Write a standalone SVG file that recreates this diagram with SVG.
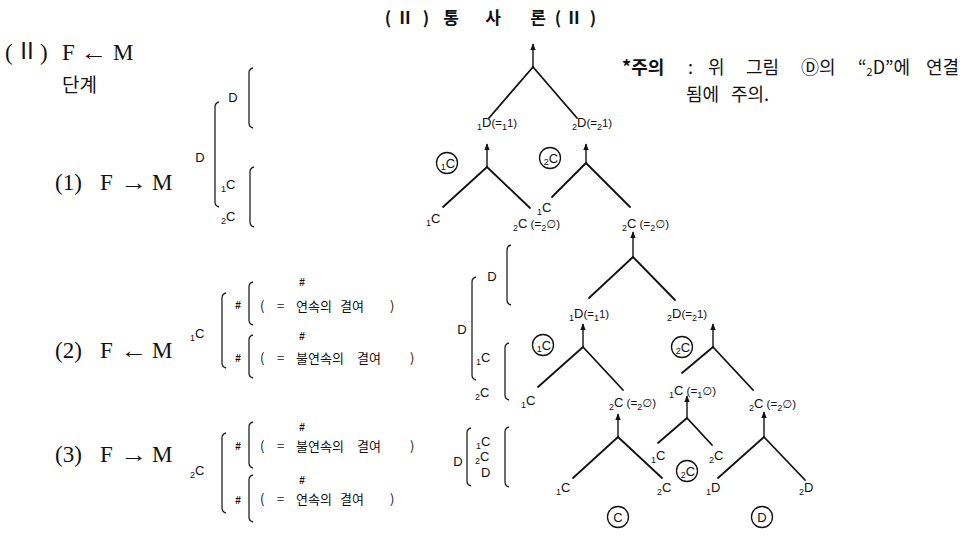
<svg xmlns="http://www.w3.org/2000/svg" width="971" height="537" viewBox="0 0 971 537">
<style>
.bg{fill:#fff}
.ln{stroke:#111;stroke-width:1.8;fill:none;stroke-linecap:round}
.st{stroke:#111;stroke-width:1.4;fill:none}
.br{stroke:#222;stroke-width:1.3;fill:none}
.ci{stroke:#111;stroke-width:1.3;fill:none}
.serif{font-family:"Liberation Serif","Noto Sans CJK KR",serif;fill:#111;font-size:23px}
.kr{font-family:"Noto Sans CJK KR","Liberation Sans",sans-serif;fill:#111}
.bk{font-size:13px}
.tt{font-size:17px;font-weight:bold;text-anchor:middle}
.nt{font-size:18px}
.lb{font-family:"Liberation Sans","DejaVu Sans",sans-serif;fill:#111;font-size:13px}
.sb{font-size:9px}
.sm{font-size:11.5px}
.mid{text-anchor:middle}
.hs{font-family:"Liberation Sans","DejaVu Sans",sans-serif;fill:#111;font-size:10px;font-weight:bold;text-anchor:middle}
</style>
<defs>
<marker id="ah" viewBox="0 0 10 10" refX="9" refY="5" markerWidth="5" markerHeight="5" orient="auto">
<path d="M0,1 L10,5 L0,9z" fill="#111"/>
</marker>
</defs>
<rect class="bg" width="971" height="537"/>

<g id="title">
<text class="kr tt" x="388" y="24">(</text>
<text class="kr tt" x="405" y="24">Ⅱ</text>
<text class="kr tt" x="426" y="24">)</text>
<text class="kr tt" x="451" y="24">통</text>
<text class="kr tt" x="493" y="24">사</text>
<text class="kr tt" x="538" y="24">론</text>
<text class="kr tt" x="558" y="24">(</text>
<text class="kr tt" x="574" y="24">Ⅱ</text>
<text class="kr tt" x="593" y="24">)</text>
</g>

<g id="heading">
<text class="serif" x="5" y="60">(</text>
<text class="serif mid" x="27" y="59" font-size="16">Ⅱ</text>
<text class="serif" x="40" y="60">)</text>
<text class="serif" x="62" y="60">F</text>
<text class="serif" x="80" y="60" textLength="27" lengthAdjust="spacingAndGlyphs">←</text>
<text class="serif" x="113" y="60">M</text>
<text class="kr" x="62" y="92" font-size="19">단계</text>
</g>

<g id="note">
<text class="kr nt" x="622" y="74" font-weight="bold">*주의</text>
<text class="kr nt" x="688" y="74">:</text>
<text class="kr nt" x="708" y="74">위</text>
<text class="kr nt" x="746" y="74">그림</text>
<text class="kr nt" x="801" y="74">Ⓓ의</text>
<text class="kr nt" x="858" y="74">“<tspan font-size="11" dy="2">2</tspan><tspan dy="-2">D”에</tspan></text>
<text class="kr nt" x="926" y="74">연결</text>
<text class="kr nt" x="686" y="101">됨에</text>
<text class="kr nt" x="731" y="101">주의.</text>
</g>

<g id="step1">
<text class="serif" x="55" y="190">(1)</text>
<text class="serif" x="100" y="190">F</text>
<text class="serif" x="120" y="190" textLength="27" lengthAdjust="spacingAndGlyphs">→</text>
<text class="serif" x="152" y="190">M</text>
<text class="lb mid" x="233" y="102" font-size="11">D</text>
<text class="lb mid" x="200" y="162" font-size="11">D</text>
<text class="lb" x="221" y="189" font-size="12"><tspan class="sb" dy="3">1</tspan><tspan dy="-3">C</tspan></text>
<text class="lb" x="221" y="221" font-size="12"><tspan class="sb" dy="3">2</tspan><tspan dy="-3">C</tspan></text>
<path class="br" d="M253 68 Q249 69 249 73 L249 123 Q249 127 253 128"/>
<path class="br" d="M219 102 Q215 103 215 107 L215 202 Q215 206 219 207"/>
<path class="br" d="M254 167 Q250 168 250 172 L250 222 Q250 226 254 227"/>
</g>

<g id="step2">
<text class="serif" x="55" y="358">(2)</text>
<text class="serif" x="100" y="358">F</text>
<text class="serif" x="120" y="358" textLength="27" lengthAdjust="spacingAndGlyphs">←</text>
<text class="serif" x="152" y="358">M</text>
<text class="lb" x="190" y="338" font-size="12"><tspan class="sb" dy="3">1</tspan><tspan dy="-3">C</tspan></text>
<path class="br" d="M226 293 Q222 294 222 298 L222 363 Q222 367 226 368"/>
<text class="hs" x="238" y="309">#</text>
<text class="hs" x="238" y="362">#</text>
<path class="br" d="M253 282 Q249 283 249 287 L249 320 Q249 324 253 325"/>
<path class="br" d="M253 335 Q249 336 249 340 L249 373 Q249 377 253 378"/>
<text class="hs" x="302" y="286">#</text>
<text class="kr bk" x="260" y="311">(</text>
<text class="kr bk" x="277" y="311">=</text>
<text class="kr bk" x="296" y="311">연속의</text>
<text class="kr bk" x="340" y="311">결여</text>
<text class="kr bk" x="390" y="311">)</text>
<text class="hs" x="302" y="340">#</text>
<text class="kr bk" x="260" y="363">(</text>
<text class="kr bk" x="277" y="363">=</text>
<text class="kr bk" x="296" y="363">불연속의</text>
<text class="kr bk" x="357" y="363">결여</text>
<text class="kr bk" x="410" y="363">)</text>
</g>

<g id="step3">
<text class="serif" x="55" y="462">(3)</text>
<text class="serif" x="100" y="462">F</text>
<text class="serif" x="120" y="462" textLength="27" lengthAdjust="spacingAndGlyphs">→</text>
<text class="serif" x="152" y="462">M</text>
<text class="lb" x="190" y="475" font-size="12"><tspan class="sb" dy="3">2</tspan><tspan dy="-3">C</tspan></text>
<path class="br" d="M226 433 Q222 434 222 438 L222 508 Q222 512 226 513"/>
<text class="hs" x="238" y="450">#</text>
<text class="hs" x="238" y="504">#</text>
<path class="br" d="M253 422 Q249 423 249 427 L249 463 Q249 467 253 468"/>
<path class="br" d="M253 475 Q249 476 249 480 L249 517 Q249 521 253 522"/>
<text class="hs" x="302" y="431">#</text>
<text class="kr bk" x="260" y="451">(</text>
<text class="kr bk" x="277" y="451">=</text>
<text class="kr bk" x="296" y="451">불연속의</text>
<text class="kr bk" x="357" y="451">결여</text>
<text class="kr bk" x="410" y="451">)</text>
<text class="hs" x="302" y="484">#</text>
<text class="kr bk" x="260" y="504">(</text>
<text class="kr bk" x="277" y="504">=</text>
<text class="kr bk" x="296" y="504">연속의</text>
<text class="kr bk" x="340" y="504">결여</text>
<text class="kr bk" x="390" y="504">)</text>
</g>

<g id="legend-mid">
<text class="lb mid" x="492" y="281" font-size="12">D</text>
<path class="br" d="M511 245 Q507 246 507 250 L507 300 Q507 304 511 305"/>
<text class="lb mid" x="462" y="334" font-size="12">D</text>
<path class="br" d="M476 277 Q472 278 472 282 L472 375 Q472 379 476 380"/>
<text class="lb" x="476" y="362" font-size="12"><tspan class="sb" dy="3">1</tspan><tspan dy="-3">C</tspan></text>
<text class="lb" x="475" y="397" font-size="12"><tspan class="sb" dy="3">2</tspan><tspan dy="-3">C</tspan></text>
<path class="br" d="M509 343 Q505 344 505 348 L505 395 Q505 399 509 400"/>
</g>

<g id="legend-low">
<text class="lb mid" x="458" y="466" font-size="12">D</text>
<path class="br" d="M471 428 Q467 429 467 433 L467 481 Q467 485 471 486"/>
<text class="lb" x="476" y="446" font-size="12"><tspan class="sb" dy="3">1</tspan><tspan dy="-3">C</tspan></text>
<text class="lb" x="475" y="461" font-size="12"><tspan class="sb" dy="3">2</tspan><tspan dy="-3">C</tspan></text>
<text class="lb" x="481" y="477" font-size="12">D</text>
<path class="br" d="M509 427 Q505 428 505 432 L505 482 Q505 486 509 487"/>
</g>

<g id="connectors">
<line class="st" x1="533" y1="67" x2="533" y2="44" marker-end="url(#ah)"/>
<line class="ln" x1="533" y1="67" x2="489" y2="118"/>
<line class="ln" x1="533" y1="67" x2="577" y2="118"/>

<line class="st" x1="487" y1="167" x2="487" y2="144" marker-end="url(#ah)"/>
<line class="ln" x1="487" y1="167" x2="443" y2="207"/>
<line class="ln" x1="487" y1="167" x2="530" y2="208"/>

<line class="st" x1="586" y1="163" x2="586" y2="144" marker-end="url(#ah)"/>
<line class="ln" x1="586" y1="163" x2="552" y2="197"/>
<line class="ln" x1="586" y1="163" x2="630" y2="207"/>

<line class="st" x1="633" y1="257" x2="633" y2="232" marker-end="url(#ah)"/>
<line class="ln" x1="633" y1="257" x2="589" y2="298"/>
<line class="ln" x1="633" y1="257" x2="675" y2="300"/>

<line class="st" x1="583" y1="347" x2="583" y2="324" marker-end="url(#ah)"/>
<line class="ln" x1="583" y1="347" x2="538" y2="387"/>
<line class="ln" x1="583" y1="347" x2="623" y2="390"/>

<line class="st" x1="713" y1="347" x2="713" y2="324" marker-end="url(#ah)"/>
<line class="ln" x1="713" y1="347" x2="682" y2="373"/>
<line class="ln" x1="713" y1="347" x2="753" y2="390"/>

<line class="st" x1="618" y1="437" x2="618" y2="414" marker-end="url(#ah)"/>
<line class="ln" x1="618" y1="437" x2="573" y2="478"/>
<line class="ln" x1="618" y1="437" x2="662" y2="478"/>

<line class="st" x1="687" y1="418" x2="687" y2="396" marker-end="url(#ah)"/>
<line class="ln" x1="687" y1="418" x2="658" y2="443"/>
<line class="ln" x1="687" y1="418" x2="712" y2="445"/>

<line class="st" x1="764" y1="437" x2="764" y2="412" marker-end="url(#ah)"/>
<line class="ln" x1="764" y1="437" x2="718" y2="478"/>
<line class="ln" x1="764" y1="437" x2="805" y2="480"/>
</g>

<g id="n-1D-top"><text class="lb" x="477" y="127"><tspan class="sb" dy="3">1</tspan><tspan dy="-3">D</tspan><tspan class="sm">(=</tspan><tspan class="sb" dy="3">1</tspan><tspan class="sm" dy="-3">1)</tspan></text></g>
<g id="n-2D-top"><text class="lb" x="572" y="127"><tspan class="sb" dy="3">2</tspan><tspan dy="-3">D</tspan><tspan class="sm">(=</tspan><tspan class="sb" dy="3">2</tspan><tspan class="sm" dy="-3">1)</tspan></text></g>
<g id="c-1C-a"><circle class="ci" cx="447" cy="163" r="10.5"/><text class="lb mid" x="448" y="168"><tspan class="sb" dy="2">1</tspan><tspan dy="-2">C</tspan></text></g>
<g id="c-2C-a"><circle class="ci" cx="550" cy="158" r="10.5"/><text class="lb mid" x="551" y="163"><tspan class="sb" dy="2">2</tspan><tspan dy="-2">C</tspan></text></g>
<g id="n-1C-a"><text class="lb" x="426" y="223"><tspan class="sb" dy="3">1</tspan><tspan dy="-3">C</tspan></text></g>
<g id="n-2C-a"><text class="lb" x="513" y="228"><tspan class="sb" dy="3">2</tspan><tspan dy="-3">C</tspan><tspan class="sm"> (=</tspan><tspan class="sb" dy="3">2</tspan><tspan class="sm" dy="-3">∅)</tspan></text></g>
<g id="n-1C-b"><text class="lb" x="537" y="212"><tspan class="sb" dy="3">1</tspan><tspan dy="-3">C</tspan></text></g>
<g id="n-2C-b"><text class="lb" x="622" y="228"><tspan class="sb" dy="3">2</tspan><tspan dy="-3">C</tspan><tspan class="sm"> (=</tspan><tspan class="sb" dy="3">2</tspan><tspan class="sm" dy="-3">∅)</tspan></text></g>
<g id="n-1D-mid"><text class="lb" x="569" y="318"><tspan class="sb" dy="3">1</tspan><tspan dy="-3">D</tspan><tspan class="sm">(=</tspan><tspan class="sb" dy="3">1</tspan><tspan class="sm" dy="-3">1)</tspan></text></g>
<g id="n-2D-mid"><text class="lb" x="667" y="318"><tspan class="sb" dy="3">2</tspan><tspan dy="-3">D</tspan><tspan class="sm">(=</tspan><tspan class="sb" dy="3">2</tspan><tspan class="sm" dy="-3">1)</tspan></text></g>
<g id="c-1C-b"><circle class="ci" cx="543" cy="345" r="10.5"/><text class="lb mid" x="544" y="350"><tspan class="sb" dy="2">1</tspan><tspan dy="-2">C</tspan></text></g>
<g id="c-2C-b"><circle class="ci" cx="682" cy="347" r="10.5"/><text class="lb mid" x="683" y="352"><tspan class="sb" dy="2">2</tspan><tspan dy="-2">C</tspan></text></g>
<g id="n-1C-c"><text class="lb" x="521" y="405"><tspan class="sb" dy="3">1</tspan><tspan dy="-3">C</tspan></text></g>
<g id="n-2C-c"><text class="lb" x="609" y="407"><tspan class="sb" dy="3">2</tspan><tspan dy="-3">C</tspan><tspan class="sm"> (=</tspan><tspan class="sb" dy="3">2</tspan><tspan class="sm" dy="-3">∅)</tspan></text></g>
<g id="n-1C-d"><text class="lb" x="669" y="395"><tspan class="sb" dy="3">1</tspan><tspan dy="-3">C</tspan><tspan class="sm"> (=</tspan><tspan class="sb" dy="3">1</tspan><tspan class="sm" dy="-3">∅)</tspan></text></g>
<g id="n-2C-d"><text class="lb" x="749" y="408"><tspan class="sb" dy="3">2</tspan><tspan dy="-3">C</tspan><tspan class="sm"> (=</tspan><tspan class="sb" dy="3">2</tspan><tspan class="sm" dy="-3">∅)</tspan></text></g>
<g id="n-1C-e"><text class="lb" x="556" y="492"><tspan class="sb" dy="3">1</tspan><tspan dy="-3">C</tspan></text></g>
<g id="n-2C-e"><text class="lb" x="657" y="492"><tspan class="sb" dy="3">2</tspan><tspan dy="-3">C</tspan></text></g>
<g id="n-1C-f"><text class="lb" x="651" y="460"><tspan class="sb" dy="3">1</tspan><tspan dy="-3">C</tspan></text></g>
<g id="n-2C-f"><text class="lb" x="709" y="460"><tspan class="sb" dy="3">2</tspan><tspan dy="-3">C</tspan></text></g>
<g id="c-2C-c"><circle class="ci" cx="687" cy="471" r="10.5"/><text class="lb mid" x="688" y="476"><tspan class="sb" dy="2">2</tspan><tspan dy="-2">C</tspan></text></g>
<g id="n-1D-e"><text class="lb" x="706" y="492"><tspan class="sb" dy="3">1</tspan><tspan dy="-3">D</tspan></text></g>
<g id="n-2D-e"><text class="lb" x="799" y="492"><tspan class="sb" dy="3">2</tspan><tspan dy="-3">D</tspan></text></g>
<g id="c-C"><circle class="ci" cx="618" cy="517" r="10.5"/><text class="lb mid" x="618" y="522" font-size="12">C</text></g>
<g id="c-D"><circle class="ci" cx="762" cy="517" r="10.5"/><text class="lb mid" x="762" y="522" font-size="12">D</text></g>
</svg>
